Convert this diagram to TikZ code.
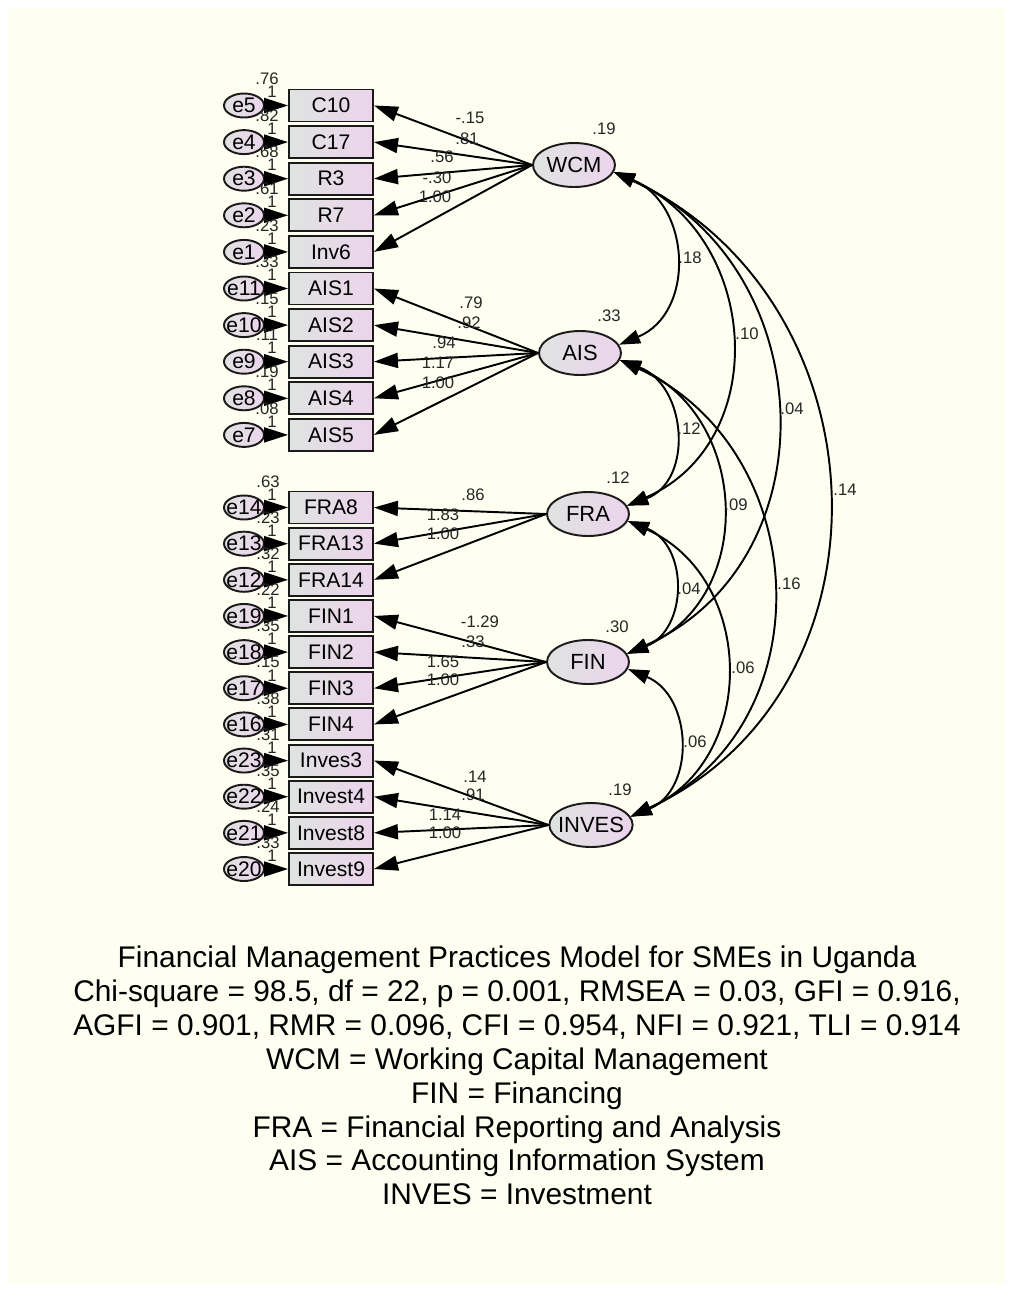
\documentclass[tikz,border=0pt]{standalone}
\usepackage{fontspec}
\setmainfont{Liberation Sans}
\usetikzlibrary{arrows.meta,shapes.geometric}
\definecolor{Paper}{HTML}{FEFFF0}
\definecolor{BoxGrey}{HTML}{DFE3E1}
\definecolor{BoxPink}{HTML}{ECD4EC}
\definecolor{Edge}{HTML}{1A1A1A}
\tikzset{
  obsbox/.style={
    rectangle, draw=Edge, line width=1.1pt, left color=BoxGrey, right color=BoxPink,
    minimum width=1.68cm, minimum height=0.64cm, inner sep=0pt, font=\fontsize{12}{14}\selectfont
  },
  errnode/.style={ellipse, draw=Edge, line width=1.1pt, left color=BoxGrey, right color=BoxPink, minimum width=0.8cm, minimum height=0.48cm, inner xsep=-3pt, inner ysep=0pt, font=\fontsize{12}{14}\selectfont},
  latnode/.style={ellipse, draw=Edge, line width=1.1pt, left color=BoxGrey, right color=BoxPink, minimum width=1.64cm, minimum height=0.88cm, inner xsep=-2pt, inner ysep=0pt, font=\fontsize{12.5}{14}\selectfont},
  numlabel/.style={font=\fontsize{9.5}{11}\selectfont, inner sep=0pt, text=black!85},
  pathto/.style={-{Triangle[length=0.48cm,width=0.3cm]}, line width=1.1pt},
  covarrow/.style={{Triangle[length=0.42cm,width=0.28cm]}-{Triangle[length=0.42cm,width=0.28cm]}, line width=1.1pt},
}

\begin{document}
\begin{tikzpicture}[x=0.02cm, y=-0.02cm]
  % page
  \useasboundingbox (0,0) rectangle (1013,1292);
  \fill[white] (0,0) rectangle (1013,1292);
  \fill[Paper] (8,8) rectangle (1005,1284);

  % latent factors
  \node[latnode] (WCM) at (574,165) {WCM};
  \node[latnode] (AIS) at (580,353) {AIS};
  \node[latnode] (FRA) at (588,514) {FRA};
  \node[latnode] (FIN) at (588,662) {FIN};
  \node[latnode] (INVES) at (591,825) {INVES};
  \node[numlabel] (vWCM) at (604,129) {.19};
  \node[numlabel] (vAIS) at (609,316) {.33};
  \node[numlabel] (vFRA) at (618,478) {.12};
  \node[numlabel] (vFIN) at (617,627) {.30};
  \node[numlabel] (vINVES) at (620,790) {.19};

  % indicators, upper block
  \foreach \b/\e/\v [count=\k from 0] in {C10/e5/.76, C17/e4/.82, R3/e3/.68, R7/e2/.61, Inv6/e1/.23,
      AIS1/e11/.33, AIS2/e10/.15, AIS3/e9/.11, AIS4/e8/.19, AIS5/e7/.08}{
    \node[obsbox] (\b) at (331,{105.5+36.6*\k}) {\b};
    \node[errnode] (\e) at (244,{105.5+36.6*\k}) {\e};
    \draw[pathto] (\e) -- (\b);
    \node[numlabel] (v\e) at (267,{79+36.6*\k}) {\v};
    \node[numlabel] (w\e) at (272,{92+36.6*\k}) {1};
  }
  % indicators, lower block
  \foreach \b/\e/\v [count=\k from 0] in {FRA8/e14/.63, FRA13/e13/.23, FRA14/e12/.32, FIN1/e19/.22,
      FIN2/e18/.35, FIN3/e17/.15, FIN4/e16/.38, Inves3/e23/.31, Invest4/e22/.35, Invest8/e21/.24, Invest9/e20/.33}{
    \node[obsbox] (\b) at (331,{507.5+36.15*\k}) {\b};
    \node[errnode] (\e) at (244,{507.5+36.15*\k}) {\e};
    \draw[pathto] (\e) -- (\b);
    \node[numlabel] (v\e) at (268,{481.5+36.15*\k}) {\v};
    \node[numlabel] (w\e) at (272,{494.5+36.15*\k}) {1};
  }

  % loadings
  \foreach \b in {C10,C17,R3,R7,Inv6} \draw[pathto] (WCM.west) -- (\b.east);
  \foreach \b in {AIS1,AIS2,AIS3,AIS4,AIS5} \draw[pathto] (AIS.west) -- (\b.east);
  \foreach \b in {FRA8,FRA13,FRA14} \draw[pathto] (FRA.west) -- (\b.east);
  \foreach \b in {FIN1,FIN2,FIN3,FIN4} \draw[pathto] (FIN.west) -- (\b.east);
  \foreach \b in {Inves3,Invest4,Invest8,Invest9} \draw[pathto] (INVES.west) -- (\b.east);
  \foreach \lab/\x/\y [count=\k] in {-.15/470/118, .81/467/139, .56/442/157, -.30/437/178, 1.00/435/197,
      .79/471/303, .92/469/323, .94/444/343, 1.17/438/363, 1.00/438/383,
      .86/473/495, 1.83/443/515, 1.00/443/534,
      -1.29/480/622, .33/473/642, 1.65/443/662, 1.00/443/680,
      .14/475/777, .91/473/795, 1.14/445/815, 1.00/445/833}
    \node[numlabel] (ld\k) at (\x,\y) {\lab};

  % covariances
  \draw[covarrow] (WCM.-10) .. controls +(77,32) and +(77,-32) .. (AIS.12);
  \draw[covarrow] (WCM.-10) .. controls +(146,64) and +(146,-64) .. (FRA.12);
  \draw[covarrow] (WCM.-10) .. controls +(207,93) and +(207,-93) .. (FIN.12);
  \draw[covarrow] (WCM.-10) .. controls +(273,127) and +(273,-127) .. (INVES.12);
  \draw[covarrow] (AIS.-10) .. controls +(67,25) and +(67,-25) .. (FRA.12);
  \draw[covarrow] (AIS.-10) .. controls +(130,55) and +(130,-55) .. (FIN.12);
  \draw[covarrow] (AIS.-10) .. controls +(195,90) and +(195,-90) .. (INVES.12);
  \draw[covarrow] (FRA.-10) .. controls +(61,24) and +(61,-24) .. (FIN.12);
  \draw[covarrow] (FRA.-10) .. controls +(128,57) and +(128,-57) .. (INVES.12);
  \draw[covarrow] (FIN.-10) .. controls +(65,27) and +(65,-27) .. (INVES.12);
  \foreach \lab/\x/\y [count=\k] in {.18/690/258, .10/747/334, .04/792/409, .14/845/490, .12/689/429,
      .09/736/505, .16/789/584, .04/689/589, .06/743/668, .06/695/742}
    \node[numlabel] (cv\k) at (\x,\y) {\lab};

  % caption
  \node[font=\fontsize{17}{19.3}\selectfont, align=center, inner sep=0pt] (caption) at (517,1075.5) {
    Financial Management Practices Model for SMEs in Uganda\\
    Chi-square = 98.5, df = 22, p = 0.001, RMSEA = 0.03, GFI = 0.916,\\
    AGFI = 0.901, RMR = 0.096, CFI = 0.954, NFI = 0.921, TLI = 0.914\\
    WCM = Working Capital Management\\
    FIN = Financing\\
    FRA = Financial Reporting and Analysis\\
    AIS = Accounting Information System\\
    INVES = Investment};
\end{tikzpicture}
\end{document}
